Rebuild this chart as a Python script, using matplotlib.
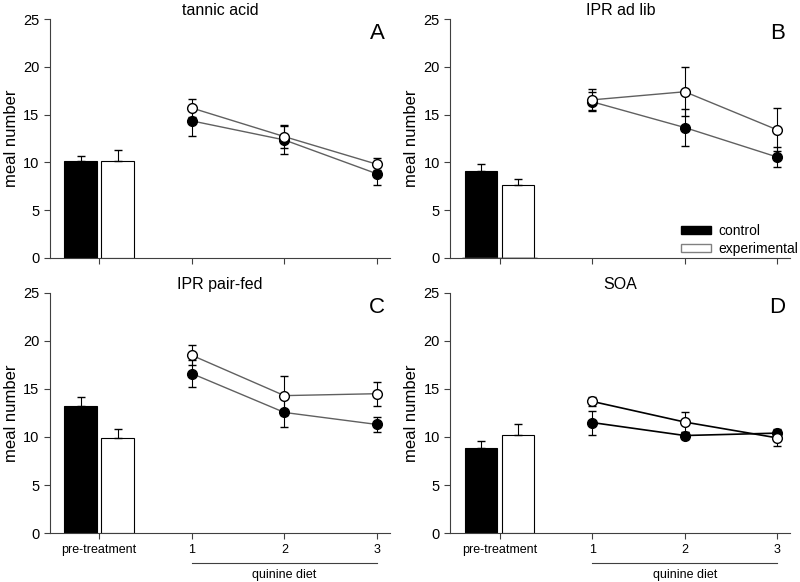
import numpy as np
import matplotlib.pyplot as plt
import matplotlib.transforms as mtransforms

plt.rcParams['font.family'] = ['Liberation Sans', 'DejaVu Sans']

#%% data
titles = ['tannic acid', 'IPR ad lib', 'IPR pair-fed', 'SOA']
letters = ['A', 'B', 'C', 'D']
days = [1, 2, 3]
xticklabels = ['pre-treatment', '1', '2', '3']

# pre-treatment bars: mean, sem
bar_ctrl = [10.1, 9.05, 13.2, 8.85]
bar_ctrl_err = [0.6, 0.8, 0.95, 0.7]
bar_exp = [10.1, 7.6, 9.9, 10.25]
bar_exp_err = [1.2, 0.7, 0.95, 1.05]

# quinine diet days 1-3: mean, sem
ctrl_A = [14.35, 12.35, 8.8]
ctrl_A_err = [1.6, 1.5, 1.2]
exp_A = [15.7, 12.7, 9.8]
exp_A_err = [0.95, 1.2, 0.65]

ctrl_B = [16.35, 13.65, 10.55]
ctrl_B_err = [1.0, 1.95, 1.05]
exp_B = [16.55, 17.4, 13.4]
exp_B_err = [1.1, 2.55, 2.25]

ctrl_C = [16.6, 12.55, 11.3]
ctrl_C_err = [1.45, 1.55, 0.8]
exp_C = [18.5, 14.3, 14.5]
exp_C_err = [1.05, 2.05, 1.25]

ctrl_D = [11.5, 10.15, 10.4]
ctrl_D_err = [1.25, 0.35, 0.45]
exp_D = [13.7, 11.55, 9.9]
exp_D_err = [0.5, 1.05, 0.8]

ctrl_lines = [ctrl_A, ctrl_B, ctrl_C, ctrl_D]
ctrl_errs = [ctrl_A_err, ctrl_B_err, ctrl_C_err, ctrl_D_err]
exp_lines = [exp_A, exp_B, exp_C, exp_D]
exp_errs = [exp_A_err, exp_B_err, exp_C_err, exp_D_err]

#%% figure
fig = plt.figure(figsize=(8.0, 5.82), dpi=100)
# axes rectangles [left, bottom, width, height] in figure fraction
rects = [[0.0625, 0.557, 0.425, 0.410],
         [0.563, 0.557, 0.425, 0.410],
         [0.0625, 0.084, 0.425, 0.413],
         [0.563, 0.084, 0.425, 0.413]]

axcol = '#404040'

for i in range(4):
    ax = fig.add_axes(rects[i])
    line_col = 'black' if i == 3 else '#606060'

    # bars
    ax.bar(-0.2, bar_ctrl[i], width=0.35, color='black', edgecolor='black', linewidth=0.8)
    ax.bar(0.2, bar_exp[i], width=0.35, color='white', edgecolor='black', linewidth=0.8)
    ax.errorbar(-0.2, bar_ctrl[i], yerr=[[0], [bar_ctrl_err[i]]], fmt='none',
                ecolor='black', elinewidth=0.8, capsize=3)
    ax.errorbar(0.2, bar_exp[i], yerr=[[0], [bar_exp_err[i]]], fmt='none',
                ecolor='black', elinewidth=0.8, capsize=3)

    # lines
    ax.errorbar(days, ctrl_lines[i], yerr=ctrl_errs[i], fmt='o-', color=line_col,
                mfc='black', mec='black', ms=7, lw=1.2 if i == 3 else 1.0,
                ecolor='black', elinewidth=0.8, capsize=3, zorder=3)
    ax.errorbar(days, exp_lines[i], yerr=exp_errs[i], fmt='o-', color=line_col,
                mfc='white', mec='black', ms=7, lw=1.2 if i == 3 else 1.0,
                ecolor='black', elinewidth=0.8, capsize=3, zorder=4)

    ax.set_xlim(-0.53, 3.14)
    ax.set_ylim(0, 25)
    ax.set_yticks([0, 5, 10, 15, 20, 25])
    ax.set_xticks([0, 1, 2, 3])
    ax.spines['top'].set_visible(False)
    ax.spines['right'].set_visible(False)
    for s in ['left', 'bottom']:
        ax.spines[s].set_color(axcol)
        ax.spines[s].set_linewidth(0.8)
    ax.tick_params(direction='out', length=4, width=0.8, color=axcol, labelsize=10.5)
    ax.set_ylabel('meal number', fontsize=12, labelpad=3)
    ax.set_title(titles[i], fontsize=11.5, pad=3)
    ax.text(0.985, 0.94, letters[i], transform=ax.transAxes, fontsize=16,
            ha='right', va='center')

    if i < 2:
        ax.set_xticklabels([])
    else:
        ax.set_xticklabels(xticklabels, fontsize=9)
        trans = mtransforms.blended_transform_factory(ax.transData, ax.transAxes)
        ax.plot([1, 3], [-0.125, -0.125], color=axcol, lw=0.8,
                transform=trans, clip_on=False)
        ax.text(2, -0.175, 'quinine diet', transform=trans, fontsize=9,
                ha='center', va='center')

    if i == 1:
        ax.bar(0, 0, color='black', edgecolor='black', label='control')
        ax.bar(0, 0, color='white', edgecolor='#808080', label='experimental')
        ax.legend(loc='lower right', bbox_to_anchor=(1.06, -0.046), frameon=False,
                  fontsize=10, handlelength=2.2, handleheight=0.5,
                  labelspacing=0.3, handletextpad=0.5)

fig.savefig('out.png', dpi=100)
